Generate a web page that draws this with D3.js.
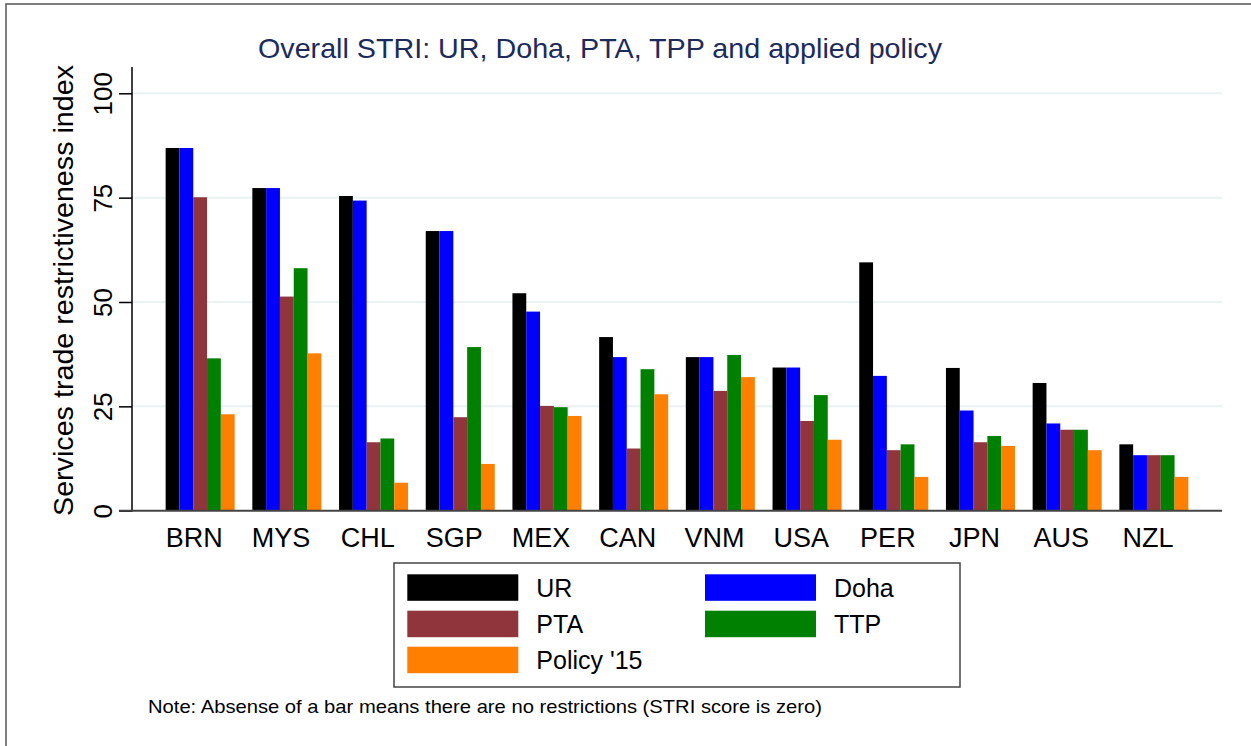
<!doctype html>
<html>
<head>
<meta charset="utf-8">
<style>
  body { margin: 0; background: #fff; }
  svg { display: block; }
  text { font-family: "Liberation Sans", Arial, Helvetica, sans-serif; }
</style>
<script src="https://d3js.org/d3.v7.min.js"></script>
</head>
<body>
<svg width="1251" height="746"></svg>
<script>
// data
var countries = ["BRN", "MYS", "CHL", "SGP", "MEX", "CAN", "VNM", "USA", "PER", "JPN", "AUS", "NZL"];
var ur       = [86.9, 77.3, 75.4, 67.0, 52.1, 41.6, 36.8, 34.3, 59.5, 34.2, 30.6, 15.9];
var doha     = [86.9, 77.3, 74.3, 67.0, 47.7, 36.8, 36.8, 34.3, 32.3, 24.0, 20.9, 13.3];
var pta      = [75.1, 51.3, 16.4, 22.4, 25.1, 14.9, 28.7, 21.5, 14.5, 16.4, 19.4, 13.3];
var tpp      = [36.5, 58.1, 17.3, 39.2, 24.8, 33.9, 37.3, 27.7, 15.9, 17.9, 19.4, 13.3];
var policy15 = [23.1, 37.7,  6.7, 11.2, 22.7, 27.9, 32.0, 17.0,  8.1, 15.5, 14.5,  8.1];
var seriesNames = ["UR", "Doha", "PTA", "TTP", "Policy '15"];
var yTicks = [0, 25, 50, 75, 100];

var seriesValues = [ur, doha, pta, tpp, policy15];
var colors = ["#000000", "#0000ff", "#90353b", "#008000", "#ff7f00"];

var svg = d3.select("svg");

// outer frame (cut off at right and bottom)
svg.append("rect")
  .attr("x", 6).attr("y", 4)
  .attr("width", 1300).attr("height", 800)
  .attr("fill", "none").attr("stroke", "#555").attr("stroke-width", 1.5);

var plotL = 132, plotR = 1222, plotT = 93.3, plotB = 510.7;

var x = d3.scaleBand().domain(countries).range([plotL, plotR])
  .paddingInner(0.204).paddingOuter(0.388);
var xs = d3.scaleBand().domain(seriesNames).range([0, x.bandwidth()]);
var y = d3.scaleLinear().domain([0, 100]).range([plotB, plotT]);

// gridlines
svg.append("g").selectAll("line")
  .data(yTicks.filter(function(d) { return d > 0; }))
  .enter().append("line")
  .attr("x1", plotL).attr("x2", plotR)
  .attr("y1", function(d) { return y(d); })
  .attr("y2", function(d) { return y(d); })
  .attr("stroke", "#eaf2f3").attr("stroke-width", 2);

// bars
var rows = countries.map(function(c, i) {
  return { country: c, vals: seriesNames.map(function(s, j) { return { s: s, v: seriesValues[j][i], j: j }; }) };
});

var grp = svg.append("g").selectAll("g")
  .data(rows).enter().append("g")
  .attr("transform", function(d) { return "translate(" + x(d.country) + ",0)"; });

grp.selectAll("rect")
  .data(function(d) { return d.vals; })
  .enter().append("rect")
  .attr("x", function(d) { return xs(d.s); })
  .attr("y", function(d) { return y(d.v); })
  .attr("width", xs.bandwidth())
  .attr("height", function(d) { return plotB - y(d.v); })
  .attr("fill", function(d) { return colors[d.j]; });

// y axis
var yAxis = svg.append("g")
  .attr("transform", "translate(" + plotL + ",0)")
  .call(d3.axisLeft(y).tickValues(yTicks).tickSize(13).tickFormat(d3.format("d")));
yAxis.select(".domain").remove();
yAxis.selectAll(".tick line").attr("stroke", "#000").attr("stroke-width", 1.5);
yAxis.selectAll(".tick text")
  .attr("x", 0).attr("dy", null)
  .attr("transform", "translate(-20,0) rotate(-90)")
  .attr("text-anchor", "middle")
  .attr("font-size", 26)
  .attr("fill", "#000");
svg.append("line")
  .attr("x1", plotL).attr("x2", plotL).attr("y1", 67).attr("y2", plotB + 1)
  .attr("stroke", "#000").attr("stroke-width", 1.5);

// x axis
svg.append("line")
  .attr("x1", 119).attr("x2", plotR).attr("y1", plotB).attr("y2", plotB)
  .attr("stroke", "#444").attr("stroke-width", 2);
svg.append("g").selectAll("text")
  .data(countries).enter().append("text")
  .attr("x", function(d) { return x(d) + x.bandwidth() * 0.415; })
  .attr("y", 547)
  .attr("text-anchor", "middle")
  .attr("font-size", 27)
  .text(function(d) { return d; });

// titles
svg.append("text")
  .attr("x", 600).attr("y", 58)
  .attr("text-anchor", "middle")
  .attr("font-size", 28)
  .attr("fill", "#1c2a5c")
  .attr("textLength", 684).attr("lengthAdjust", "spacingAndGlyphs")
  .text("Overall STRI: UR, Doha, PTA, TPP and applied policy");

svg.append("text")
  .attr("transform", "translate(73.3,290.5) rotate(-90)")
  .attr("text-anchor", "middle")
  .attr("font-size", 28)
  .attr("textLength", 451).attr("lengthAdjust", "spacingAndGlyphs")
  .text("Services trade restrictiveness index");

// legend
var legend = svg.append("g");
legend.append("rect")
  .attr("x", 394).attr("y", 563).attr("width", 566).attr("height", 124)
  .attr("fill", "#fff").attr("stroke", "#444").attr("stroke-width", 1.5);

var legPos = [
  { cx: 407.3, cy: 574.3 }, { cx: 705, cy: 574.3 },
  { cx: 407.3, cy: 610.7 }, { cx: 705, cy: 610.7 },
  { cx: 407.3, cy: 646.7 }
];
var li = legend.selectAll("g.item")
  .data(seriesNames).enter().append("g")
  .attr("class", "item")
  .attr("transform", function(d, i) { return "translate(" + legPos[i].cx + "," + legPos[i].cy + ")"; });
li.append("rect")
  .attr("width", 111).attr("height", 26.5)
  .attr("fill", function(d, i) { return colors[i]; });
li.append("text")
  .attr("x", 129).attr("y", 22.5)
  .attr("font-size", 25)
  .text(function(d) { return d; });

// note
svg.append("text")
  .attr("x", 148).attr("y", 713)
  .attr("font-size", 18.5)
  .attr("textLength", 674).attr("lengthAdjust", "spacingAndGlyphs")
  .text("Note: Absense of a bar means there are no restrictions (STRI score is zero)");
</script>
</body>
</html>
